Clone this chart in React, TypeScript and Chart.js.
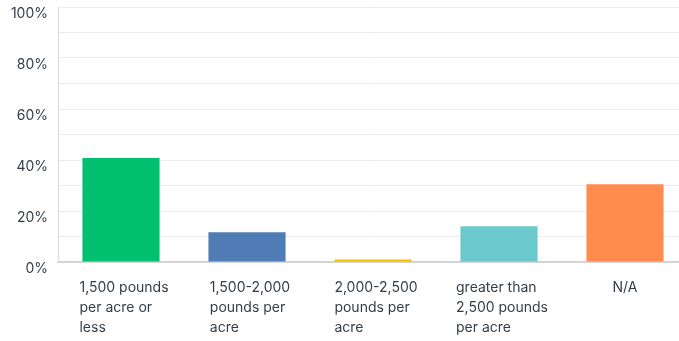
import { useEffect, useRef } from "react";
import { Chart, registerables } from "chart.js";

Chart.register(...registerables);

// Answer choices, one array of wrapped lines per bar
const categories: string[][] = [
  ["1,500 pounds", "per acre or", "less"],
  ["1,500-2,000", "pounds per", "acre"],
  ["2,000-2,500", "pounds per", "acre"],
  ["greater than", "2,500 pounds", "per acre"],
  ["N/A"],
];

// Share of respondents per choice, in percent
const shares: number[] = [40.8, 11.7, 1.0, 14.0, 30.5];

const barColors: string[] = ["#00BF6F", "#507CB6", "#F9BE00", "#6BC8CD", "#FF8B4F"];

// Percent ticks shown on the value axis
const yTickLabels: number[] = [0, 20, 40, 60, 80, 100];

const FONT_FAMILY = "Inter, 'Noto Sans', sans-serif";
const TEXT_COLOR = "#333e48";

// Draws the wrapped category labels as left-aligned blocks under each bar
const categoryLabelPlugin = {
  id: "categoryLabels",
  afterDraw(chart: Chart) {
    const { ctx, chartArea } = chart;
    const xScale = chart.scales.x;
    ctx.save();
    ctx.font = `14px ${FONT_FAMILY}`;
    ctx.fillStyle = TEXT_COLOR;
    ctx.textBaseline = "middle";
    ctx.textAlign = "left";
    categories.forEach((lines, i) => {
      const center = xScale.getPixelForValue(i);
      const widest = Math.max(...lines.map((l) => ctx.measureText(l).width));
      const left = center - widest / 2 + (lines.length > 1 ? 3 : 0);
      lines.forEach((line, j) => {
        ctx.fillText(line, left, chartArea.bottom + 25.5 + j * 20);
      });
    });
    ctx.restore();
  },
};

export default function App() {
  const canvasRef = useRef<HTMLCanvasElement | null>(null);

  useEffect(() => {
    if (!canvasRef.current) return;
    const chart = new Chart(canvasRef.current, {
      type: "bar",
      data: {
        labels: categories.map((c) => c.join(" ")),
        datasets: [
          {
            data: shares,
            backgroundColor: barColors,
            borderWidth: 0,
            barPercentage: 0.612,
            categoryPercentage: 1,
          },
        ],
      },
      plugins: [categoryLabelPlugin],
      options: {
        animation: false,
        responsive: true,
        maintainAspectRatio: false,
        layout: { padding: { top: 7, right: 12, bottom: 79, left: 0 } },
        plugins: {
          legend: { display: false },
          tooltip: { enabled: false },
        },
        scales: {
          x: {
            grid: { display: false, drawTicks: false },
            border: { display: true, color: "#d4d4d4", width: 2 },
            ticks: { display: false },
          },
          y: {
            min: 0,
            max: 100,
            afterFit(scale: any) {
              scale.width = 58;
              scale.paddingTop = 0;
              scale.paddingBottom = 0;
            },
            grid: { color: "#ececec", lineWidth: 1, drawTicks: false },
            border: { display: true, color: "#d9d9d9", width: 1 },
            ticks: {
              stepSize: 10,
              padding: 10,
              labelOffset: 7,
              color: TEXT_COLOR,
              font: { family: FONT_FAMILY, size: 14 },
              callback: (value: any) =>
                yTickLabels.includes(Number(value)) ? `${value}%` : "",
            },
          },
        },
      },
    });
    return () => chart.destroy();
  }, []);

  return (
    <div
      style={{
        position: "absolute",
        left: 0,
        top: 0,
        width: 679,
        height: 341,
        overflow: "hidden",
        background: "#ffffff",
      }}
    >
      <div style={{ position: "relative", width: 700, height: 341 }}>
        <canvas ref={canvasRef} />
      </div>
    </div>
  );
}
